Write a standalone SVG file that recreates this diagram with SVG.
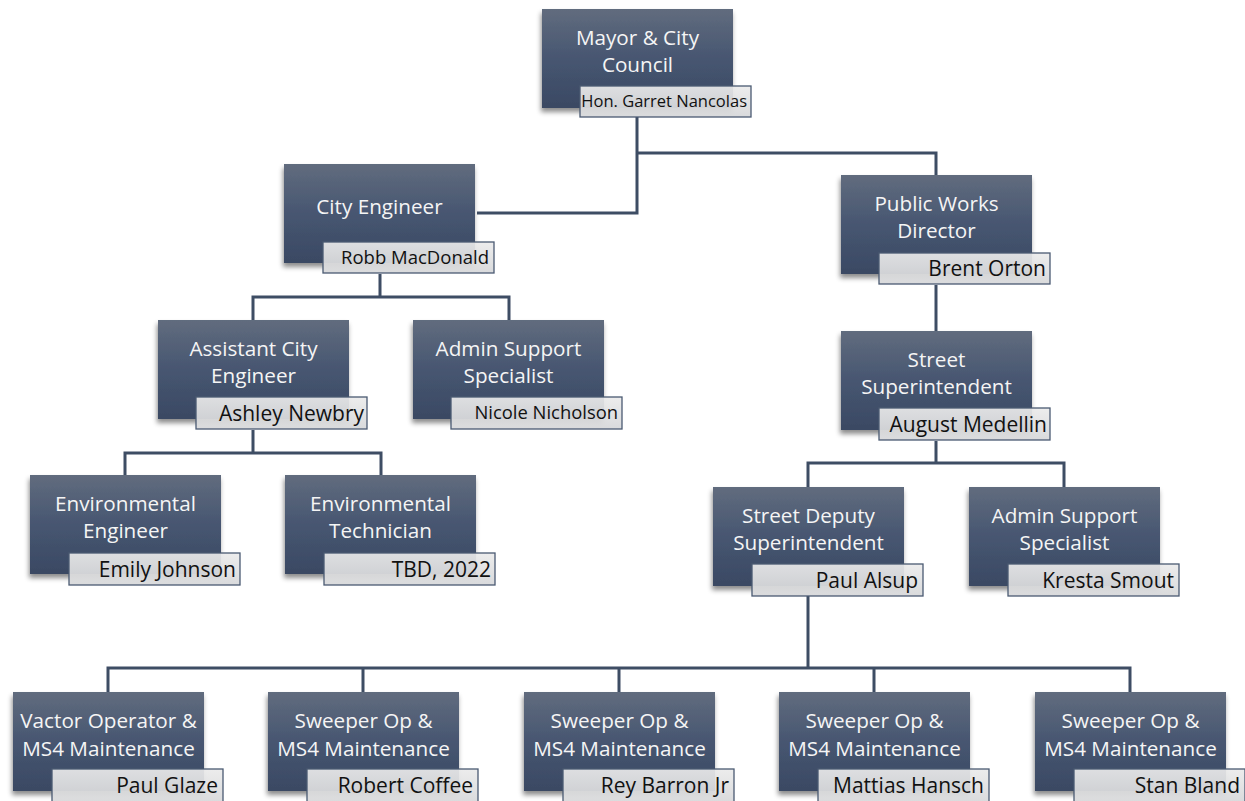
<svg xmlns="http://www.w3.org/2000/svg" width="1245" height="801" viewBox="0 0 1245 801">
<defs>
<linearGradient id="gBox" x1="0" y1="0" x2="0" y2="1">
<stop offset="0" stop-color="#616c7e"/>
<stop offset="0.5" stop-color="#475671"/>
<stop offset="1" stop-color="#3a4963"/>
</linearGradient>
<linearGradient id="gName" x1="0" y1="0" x2="0" y2="1">
<stop offset="0" stop-color="#ebebeb"/>
<stop offset="1" stop-color="#d6d7d9"/>
</linearGradient>
<filter id="sh" x="-10%" y="-10%" width="125%" height="130%">
<feDropShadow dx="-1" dy="4" stdDeviation="2.5" flood-color="#000" flood-opacity="0.45"/>
</filter>
</defs>
<style>
.box{fill:url(#gBox);filter:url(#sh)}
.nm{fill:url(#gName);fill-opacity:0.92;stroke:#4a5a72;stroke-width:1.3}
.t{font-family:"Open Sans","Noto Sans",sans-serif;font-size:20.7px;fill:#f5f5f5;text-anchor:middle}
.n{font-family:"Open Sans","Noto Sans",sans-serif;font-size:21px;fill:#111;text-anchor:end}
.con{fill:none;stroke:#3e4d64;stroke-width:3}
</style>
<rect width="1245" height="801" fill="#fff"/>
<g id="connectors" class="con">
<path d="M637,117 V213 H477"/>
<path d="M637,153 H936 V175"/>
<path d="M380,274 V297 H253 V320 M380,297 H509 V320"/>
<path d="M253,430 V453 H125 V475 M253,453 H381 V475"/>
<path d="M936,285 V331"/>
<path d="M936,441 V463 H808 V487 M936,463 H1064 V487"/>
<path d="M808,596 V668 M108,692 V668 H1130 V692 M363,668 V692 M619,668 V692 M874,668 V692"/>
</g>
<g id="mayor">
<rect class="box" x="542" y="9" width="191" height="99"/>
<text class="t" x="637.5" y="45">Mayor &amp; City</text>
<text class="t" x="637.5" y="72">Council</text>
<rect class="nm" x="580" y="86" width="171" height="31"/>
<text class="n" x="747" y="107" style="font-size:16.5px">Hon. Garret Nancolas</text>
</g>
<g id="city-engineer">
<rect class="box" x="284" y="164" width="191" height="99"/>
<text class="t" x="379.5" y="214">City Engineer</text>
<rect class="nm" x="323" y="242" width="171" height="31"/>
<text class="n" x="489" y="264" style="font-size:18.5px">Robb MacDonald</text>
</g>
<g id="public-works-director">
<rect class="box" x="841" y="175" width="191" height="99"/>
<text class="t" x="936.5" y="211">Public Works</text>
<text class="t" x="936.5" y="238">Director</text>
<rect class="nm" x="879" y="253" width="171" height="31"/>
<text class="n" x="1046" y="276">Brent Orton</text>
</g>
<g id="assistant-city-engineer">
<rect class="box" x="158" y="320" width="191" height="99"/>
<text class="t" x="253.5" y="356">Assistant City</text>
<text class="t" x="253.5" y="383">Engineer</text>
<rect class="nm" x="196" y="397" width="171" height="32"/>
<text class="n" x="364" y="421">Ashley Newbry</text>
</g>
<g id="admin-support-left">
<rect class="box" x="413" y="320" width="191" height="99"/>
<text class="t" x="508.5" y="356">Admin Support</text>
<text class="t" x="508.5" y="383">Specialist</text>
<rect class="nm" x="451" y="397" width="171" height="32"/>
<text class="n" x="618" y="419" style="font-size:18.4px">Nicole Nicholson</text>
</g>
<g id="street-superintendent">
<rect class="box" x="841" y="331" width="191" height="99"/>
<text class="t" x="936.5" y="367">Street</text>
<text class="t" x="936.5" y="394">Superintendent</text>
<rect class="nm" x="879" y="408" width="171" height="32"/>
<text class="n" x="1047" y="432">August Medellin</text>
</g>
<g id="environmental-engineer">
<rect class="box" x="30" y="475" width="191" height="99"/>
<text class="t" x="125.5" y="511">Environmental</text>
<text class="t" x="125.5" y="538">Engineer</text>
<rect class="nm" x="69" y="553" width="171" height="32"/>
<text class="n" x="236" y="577">Emily Johnson</text>
</g>
<g id="environmental-technician">
<rect class="box" x="285" y="475" width="191" height="99"/>
<text class="t" x="380.5" y="511">Environmental</text>
<text class="t" x="380.5" y="538">Technician</text>
<rect class="nm" x="324" y="553" width="171" height="32"/>
<text class="n" x="491" y="577">TBD, 2022</text>
</g>
<g id="street-deputy-superintendent">
<rect class="box" x="713" y="487" width="191" height="99"/>
<text class="t" x="808.5" y="523">Street Deputy</text>
<text class="t" x="808.5" y="550">Superintendent</text>
<rect class="nm" x="752" y="564" width="171" height="32"/>
<text class="n" x="918" y="588">Paul Alsup</text>
</g>
<g id="admin-support-right">
<rect class="box" x="969" y="487" width="191" height="99"/>
<text class="t" x="1064.5" y="523">Admin Support</text>
<text class="t" x="1064.5" y="550">Specialist</text>
<rect class="nm" x="1008" y="564" width="171" height="32"/>
<text class="n" x="1174" y="588">Kresta Smout</text>
</g>
<g id="vactor-operator">
<rect class="box" x="13" y="692" width="191" height="99"/>
<text class="t" x="108.5" y="728">Vactor Operator &amp;</text>
<text class="t" x="108.5" y="756">MS4 Maintenance</text>
<rect class="nm" x="52" y="769" width="171" height="34"/>
<text class="n" x="218" y="793">Paul Glaze</text>
</g>
<g id="sweeper-1">
<rect class="box" x="268" y="692" width="191" height="99"/>
<text class="t" x="363.5" y="728">Sweeper Op &amp;</text>
<text class="t" x="363.5" y="756">MS4 Maintenance</text>
<rect class="nm" x="307" y="769" width="171" height="34"/>
<text class="n" x="473" y="793">Robert Coffee</text>
</g>
<g id="sweeper-2">
<rect class="box" x="524" y="692" width="191" height="99"/>
<text class="t" x="619.5" y="728">Sweeper Op &amp;</text>
<text class="t" x="619.5" y="756">MS4 Maintenance</text>
<rect class="nm" x="563" y="769" width="171" height="34"/>
<text class="n" x="729" y="793">Rey Barron Jr</text>
</g>
<g id="sweeper-3">
<rect class="box" x="779" y="692" width="191" height="99"/>
<text class="t" x="874.5" y="728">Sweeper Op &amp;</text>
<text class="t" x="874.5" y="756">MS4 Maintenance</text>
<rect class="nm" x="818" y="769" width="171" height="34"/>
<text class="n" x="984" y="793">Mattias Hansch</text>
</g>
<g id="sweeper-4">
<rect class="box" x="1035" y="692" width="191" height="99"/>
<text class="t" x="1130.5" y="728">Sweeper Op &amp;</text>
<text class="t" x="1130.5" y="756">MS4 Maintenance</text>
<rect class="nm" x="1074" y="769" width="171" height="34"/>
<text class="n" x="1240" y="793">Stan Bland</text>
</g>
</svg>
